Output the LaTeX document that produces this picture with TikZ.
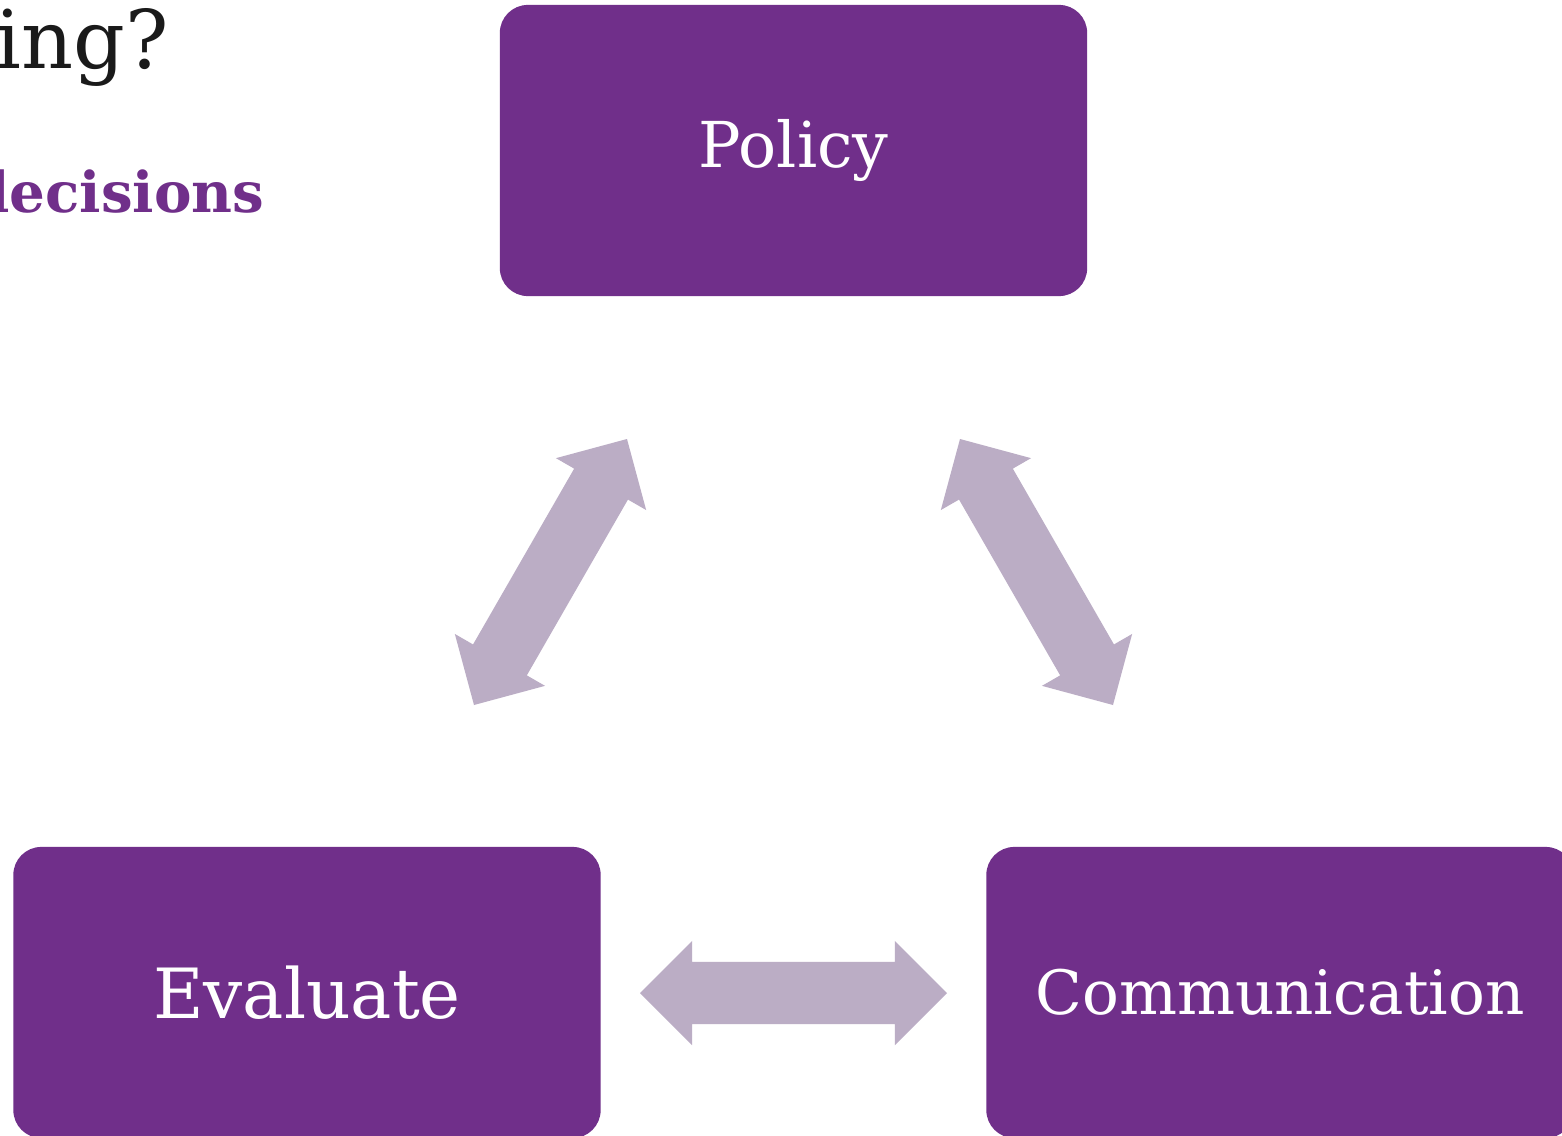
\documentclass[tikz,border=0pt]{standalone}
\usepackage{fontspec}
\setmainfont{DejaVu Serif}
\usetikzlibrary{calc}
\definecolor{boxpurple}{HTML}{702F8A}
\definecolor{arrowlilac}{HTML}{BBADC5}
\definecolor{titleblack}{HTML}{1A1A1A}
\tikzset{
  stagebox/.style={fill=boxpurple,rounded corners=0.28cm,minimum width=5.87cm,
    minimum height=2.91cm,inner sep=0pt,text=white},
  arrowfill/.style={fill=arrowlilac}
}
% double arrow between two tips: head 0.52cm long and wide, shaft 0.62cm
\newcommand{\dblarrow}[2]{%
  \coordinate (ha) at ($(#1)!0.52cm!(#2)$);
  \coordinate (hb) at ($(#2)!0.52cm!(#1)$);
  \fill[arrowfill] (#1) -- ($(ha)!0.52cm!90:(#2)$) -- ($(ha)!0.31cm!90:(#2)$)
    -- ($(hb)!0.31cm!-90:(#1)$) -- ($(hb)!0.52cm!-90:(#1)$) -- (#2)
    -- ($(hb)!0.52cm!90:(#1)$) -- ($(hb)!0.31cm!90:(#1)$)
    -- ($(ha)!0.31cm!-90:(#2)$) -- ($(ha)!0.52cm!-90:(#2)$) -- cycle;
}
\begin{document}
\begin{tikzpicture}[x=0.01cm,y=-0.01cm]
    \clip (0,0) rectangle (1562,1136);
    \fill[white] (0,0) rectangle (1562,1136);
    \node[anchor=base west,inner sep=0pt,text=titleblack] (title) at (-5,68)
        {\fontsize{23}{28}\selectfont ing?};
    \node[anchor=base east,inner sep=0pt,text=boxpurple] (sub) at (265,212)
        {\fontsize{16}{20}\selectfont\bfseries decisions};
    \node[stagebox] (policy) at (793.5,150.5){\fontsize{18}{22}\selectfont Policy};
    \node[stagebox] (evaluate) at (307,992.5){\fontsize{19.7}{24}\selectfont Evaluate};
    \node[stagebox] (comm) at (1280,992.5){\fontsize{17.4}{21}\selectfont Communication};
    % arrow tips
    \coordinate (le) at (474,705);
    \coordinate (lp) at (627,439);
    \coordinate (rp) at (960,439);
    \coordinate (rc) at (1113,705);
    \coordinate (be) at (640,993);
    \coordinate (bc) at (947,993);
    \dblarrow{le}{lp}
    \dblarrow{rp}{rc}
    \dblarrow{be}{bc}
\end{tikzpicture}
\end{document}
